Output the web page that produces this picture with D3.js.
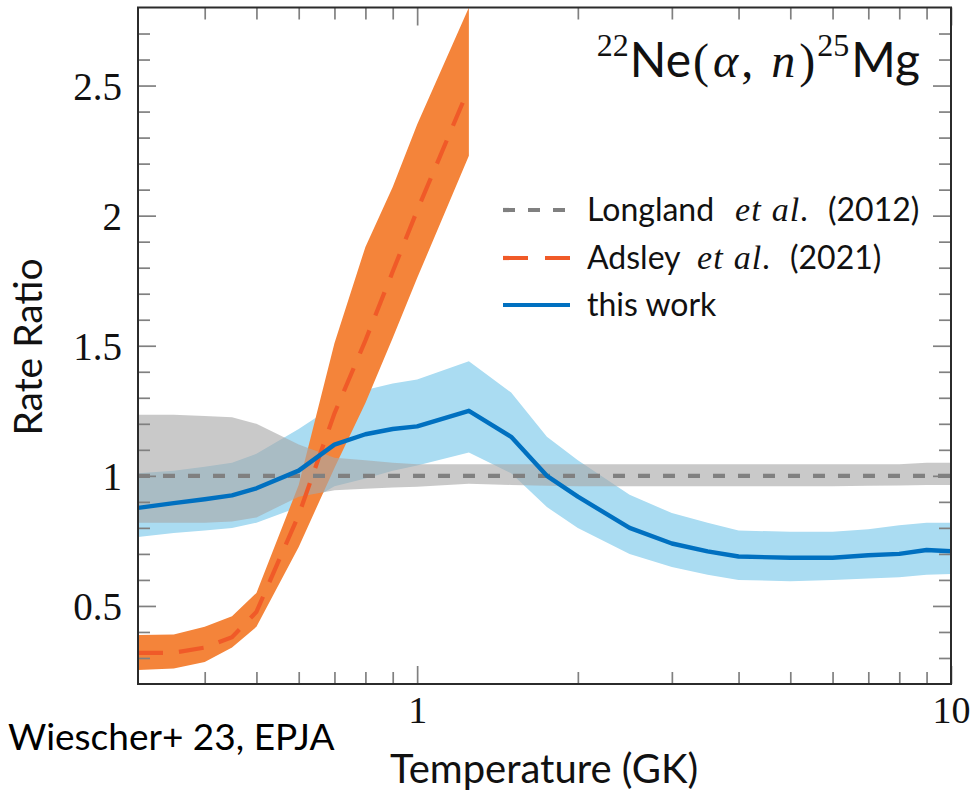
<!DOCTYPE html>
<html>
<head>
<meta charset="utf-8">
<script src="https://cdn.jsdelivr.net/npm/d3@7"></script>
<style>
  body { margin: 0; background: #fff; }
  svg { display: block; }
</style>
</head>
<body>
<svg id="chart" width="975" height="792"></svg>
<script>
// Temperature grid (GK)
const temperatures = [0.3, 0.35, 0.4, 0.45, 0.5, 0.6, 0.7, 0.8, 0.9, 1.0, 1.25, 1.5, 1.75, 2, 2.5, 3, 3.5, 4, 5, 6, 7, 8, 9, 10];

// Longland et al. (2012): recommended ratio and uncertainty band
const longlandMid  = [1, 1, 1, 1, 1, 1, 1, 1, 1, 1, 1, 1, 1, 1, 1, 1, 1, 1, 1, 1, 1, 1, 1, 1];
const longlandLow  = [0.82, 0.82, 0.82, 0.825, 0.84, 0.92, 0.945, 0.95, 0.955, 0.958, 0.97, 0.965, 0.962, 0.96, 0.96, 0.96, 0.96, 0.96, 0.96, 0.96, 0.962, 0.963, 0.965, 0.965];
const longlandHigh = [1.235, 1.235, 1.23, 1.225, 1.2, 1.12, 1.07, 1.06, 1.05, 1.045, 1.045, 1.045, 1.045, 1.045, 1.045, 1.045, 1.045, 1.045, 1.045, 1.045, 1.045, 1.045, 1.05, 1.05];

// Adsley et al. (2021): only up to 1.25 GK
const adsleyTemps = [0.3, 0.35, 0.4, 0.45, 0.5, 0.6, 0.7, 0.8, 0.9, 1.0, 1.25];
const adsleyMid   = [0.32, 0.32, 0.34, 0.38, 0.477, 0.85, 1.24, 1.52, 1.785, 2.02, 2.49];
const adsleyLow   = [0.254, 0.26, 0.285, 0.34, 0.42, 0.727, 1.03, 1.28, 1.53, 1.76, 2.23];
const adsleyHigh  = [0.388, 0.39, 0.42, 0.46, 0.55, 0.965, 1.51, 1.88, 2.11, 2.35, 2.8];

// This work
const thisWorkMid  = [0.877, 0.895, 0.91, 0.925, 0.952, 1.02, 1.12, 1.16, 1.18, 1.19, 1.25, 1.15, 1.0, 0.92, 0.80, 0.74, 0.71, 0.69, 0.685, 0.685, 0.695, 0.70, 0.715, 0.71];
const thisWorkLow  = [0.765, 0.78, 0.79, 0.80, 0.82, 0.88, 0.96, 0.99, 1.02, 1.04, 1.09, 1.01, 0.88, 0.80, 0.70, 0.65, 0.62, 0.60, 0.595, 0.60, 0.605, 0.61, 0.62, 0.623];
const thisWorkHigh = [1.01, 1.02, 1.035, 1.05, 1.085, 1.18, 1.27, 1.33, 1.355, 1.37, 1.44, 1.32, 1.15, 1.06, 0.927, 0.857, 0.82, 0.79, 0.785, 0.785, 0.795, 0.81, 0.82, 0.82];

// Axis ticks
const yMajorTicks = [0.5, 1, 1.5, 2, 2.5];
const yTickLabels = ["0.5", "1", "1.5", "2", "2.5"];
const yMinorTicks = [0.3, 0.4, 0.6, 0.7, 0.8, 0.9, 1.1, 1.2, 1.3, 1.4, 1.6, 1.7, 1.8, 1.9, 2.1, 2.2, 2.3, 2.4, 2.6, 2.7];
const xMajorTicks = [1, 10];
const xTickLabels = ["1", "10"];
const xMinorTicks = [0.4, 0.5, 0.6, 0.7, 0.8, 0.9, 2, 3, 4, 5, 6, 7, 8, 9];

const colors = {
  grayBand: "#a8a8a8", grayLine: "#808080",
  orangeBand: "#f4843a", orangeLine: "#f05a28",
  blueBand: "#aadcf2", blueLine: "#0070c0",
  tick: "#808080", frame: "#2b2b2b"
};

const svg = d3.select("#chart");
const plot = { left: 138, right: 951, top: 7.5, bottom: 684 };

const x = d3.scaleLog().domain([0.3, 10]).range([plot.left, plot.right]);
const y = d3.scaleLinear().domain([0.2, 2.8]).range([plot.bottom, plot.top]);

svg.append("defs").append("clipPath").attr("id", "plot-clip")
  .append("rect")
  .attr("x", plot.left).attr("y", plot.top)
  .attr("width", plot.right - plot.left).attr("height", plot.bottom - plot.top);

const rows = (ts, mid, lo, hi) => ts.map((t, i) => ({ t, mid: mid[i], lo: lo[i], hi: hi[i] }));
const longland = rows(temperatures, longlandMid, longlandLow, longlandHigh);
const adsley = rows(adsleyTemps, adsleyMid, adsleyLow, adsleyHigh);
const thisWork = rows(temperatures, thisWorkMid, thisWorkLow, thisWorkHigh);

const band = d3.area().x(d => x(d.t)).y0(d => y(d.lo)).y1(d => y(d.hi));
const line = d3.line().x(d => x(d.t)).y(d => y(d.mid));

const g = svg.append("g").attr("clip-path", "url(#plot-clip)");

// Uncertainty bands
g.append("path").datum(thisWork).attr("d", band).attr("fill", colors.blueBand);
g.append("path").datum(adsley).attr("d", band).attr("fill", colors.orangeBand);
g.append("path").datum(longland).attr("d", band).attr("fill", colors.grayBand).attr("fill-opacity", 0.62);

// Central values
g.append("path").datum(longland).attr("d", line)
  .attr("fill", "none").attr("stroke", colors.grayLine).attr("stroke-width", 4.2)
  .attr("stroke-dasharray", "12,13");
g.append("path").datum(adsley).attr("d", line)
  .attr("fill", "none").attr("stroke", colors.orangeLine).attr("stroke-width", 4.2)
  .attr("stroke-dasharray", "25,16");
g.append("path").datum(thisWork).attr("d", line)
  .attr("fill", "none").attr("stroke", colors.blueLine).attr("stroke-width", 4.4)
  .attr("stroke-linejoin", "round");

// Ticks on all four sides, pointing inward
function tickLayer(axis, transform) {
  const a = svg.append("g").attr("transform", transform).call(axis);
  a.select(".domain").remove();
  a.selectAll(".tick line").attr("stroke", colors.tick).attr("stroke-width", 1.7);
  return a;
}
const serif = "'Liberation Serif', 'DejaVu Serif', serif";
const sans = "Lato, 'Open Sans', sans-serif";

const yLeft = tickLayer(
  d3.axisLeft(y).tickValues(yMajorTicks).tickSize(-18).tickPadding(16)
    .tickFormat((d, i) => yTickLabels[i]),
  `translate(${plot.left},0)`);
yLeft.selectAll(".tick text")
  .attr("font-family", serif).attr("font-size", 39).attr("fill", "#111").attr("dy", "0.36em");
tickLayer(d3.axisLeft(y).tickValues(yMinorTicks).tickSize(-12).tickFormat(""), `translate(${plot.left},0)`);
tickLayer(d3.axisRight(y).tickValues(yMajorTicks).tickSize(-18).tickFormat(""), `translate(${plot.right},0)`);
tickLayer(d3.axisRight(y).tickValues(yMinorTicks).tickSize(-12).tickFormat(""), `translate(${plot.right},0)`);

const xBottom = tickLayer(
  d3.axisBottom(x).tickValues(xMajorTicks).tickSize(-18).tickPadding(12)
    .tickFormat((d, i) => xTickLabels[i]),
  `translate(0,${plot.bottom})`);
xBottom.selectAll(".tick text")
  .attr("font-family", serif).attr("font-size", 38).attr("fill", "#111");
tickLayer(d3.axisBottom(x).tickValues(xMinorTicks).tickSize(-12).tickFormat(""), `translate(0,${plot.bottom})`);
tickLayer(d3.axisTop(x).tickValues(xMajorTicks).tickSize(-18).tickFormat(""), `translate(0,${plot.top})`);
tickLayer(d3.axisTop(x).tickValues(xMinorTicks).tickSize(-12).tickFormat(""), `translate(0,${plot.top})`);

// Frame
svg.append("rect")
  .attr("x", plot.left).attr("y", plot.top)
  .attr("width", plot.right - plot.left).attr("height", plot.bottom - plot.top)
  .attr("fill", "none").attr("stroke", colors.frame).attr("stroke-width", 2);

// Reaction label
const title = svg.append("text").attr("x", 920).attr("y", 77).attr("text-anchor", "end").attr("fill", "#111");
const big = 48, small = 32;
title.append("tspan").attr("font-family", serif).attr("font-size", small).attr("dy", -21).text("22");
title.append("tspan").attr("font-family", sans).attr("font-size", big).attr("dy", 21).attr("dx", 1).text("Ne");
title.append("tspan").attr("font-family", serif).attr("font-size", big).attr("dx", 2).text("(");
title.append("tspan").attr("font-family", serif).attr("font-size", big).attr("font-style", "italic").attr("dx", 4).text("α");
title.append("tspan").attr("font-family", serif).attr("font-size", big).attr("dx", 3).text(",");
title.append("tspan").attr("font-family", serif).attr("font-size", big).attr("font-style", "italic").attr("dx", 18).text("n");
title.append("tspan").attr("font-family", serif).attr("font-size", big).attr("dx", 4).text(")");
title.append("tspan").attr("font-family", serif).attr("font-size", small).attr("dy", -21).attr("dx", 2).text("25");
title.append("tspan").attr("font-family", sans).attr("font-size", big).attr("dy", 21).attr("dx", 2).text("Mg");

// Legend
const legendItems = [
  { y: 210, color: colors.grayLine, dash: "12,13", parts: [["Longland", 587, false], ["et al.", 735, true], ["(2012)", 828, false]] },
  { y: 258, color: colors.orangeLine, dash: "25,17", parts: [["Adsley", 587, false], ["et al.", 697, true], ["(2021)", 790, false]] },
  { y: 305, color: colors.blueLine, dash: null, parts: [["this work", 587, false]] }
];
const legend = svg.append("g");
legendItems.forEach(item => {
  legend.append("line")
    .attr("x1", 503).attr("x2", 570).attr("y1", item.y).attr("y2", item.y)
    .attr("stroke", item.color).attr("stroke-width", 4.2)
    .attr("stroke-dasharray", item.dash);
  item.parts.forEach(([txt, px, italic]) => {
    const t = legend.append("text")
      .attr("x", px).attr("y", item.y + 11)
      .attr("font-family", italic ? serif : sans)
      .attr("font-style", italic ? "italic" : "normal")
      .attr("font-size", italic ? 34 : 32).attr("fill", "#111")
      .text(txt);
    if (italic) t.attr("textLength", 74).attr("lengthAdjust", "spacing");
  });
});

// Axis titles
svg.append("text")
  .attr("x", 544).attr("y", 783).attr("text-anchor", "middle")
  .attr("font-family", sans).attr("font-size", 40).attr("fill", "#111")
  .text("Temperature (GK)");
svg.append("text")
  .attr("transform", "translate(42,347) rotate(-90)").attr("text-anchor", "middle")
  .attr("font-family", sans).attr("font-size", 39).attr("fill", "#111")
  .text("Rate Ratio");

// Source note
svg.append("text")
  .attr("x", 8).attr("y", 750)
  .attr("font-family", sans).attr("font-size", 37).attr("fill", "#000")
  .text("Wiescher+ 23, EPJA");
</script>
</body>
</html>
